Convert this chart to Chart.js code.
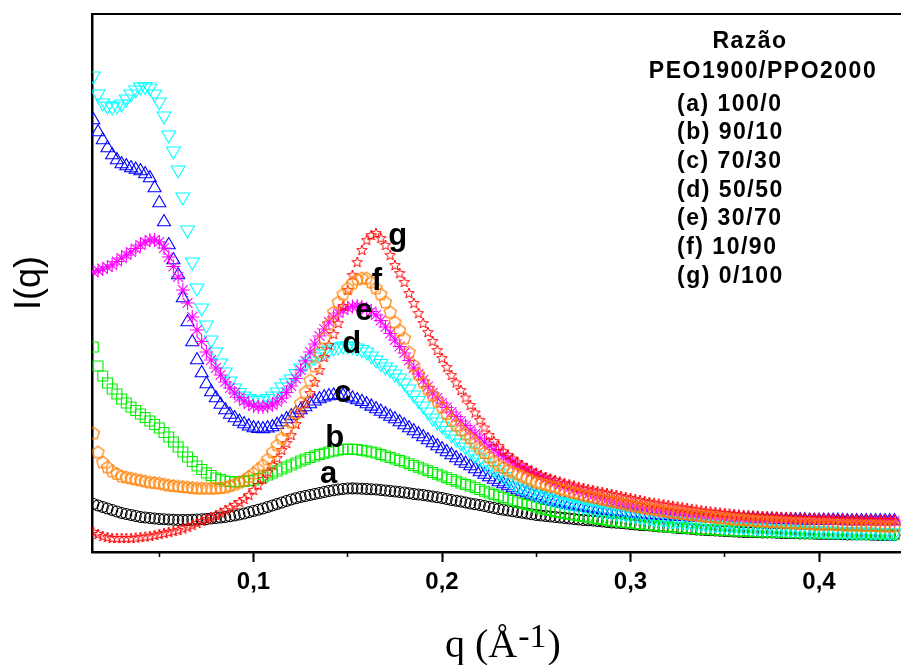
<!DOCTYPE html>
<html>
<head>
<meta charset="utf-8">
<script src="https://cdn.jsdelivr.net/npm/chart.js"></script>
<style>
  body { margin: 0; background: #fff; }
  #wrap { width: 901px; height: 665px; }
</style>
</head>
<body>
<div id="wrap"><canvas id="saxs" width="901" height="665"></canvas></div>
<script>
// q values (1/Angstrom), one row per 0.05
const qValues = [
  0.015, 0.0175, 0.02, 0.0225, 0.025, 0.0275, 0.03, 0.0325, 0.035, 0.0375, 0.04, 0.0425, 0.045, 0.0475, 0.05, 0.0525, 0.055, 0.0575, 0.06, 0.0625,
  0.065, 0.0675, 0.07, 0.0725, 0.075, 0.0775, 0.08, 0.0825, 0.085, 0.0875, 0.09, 0.0925, 0.095, 0.0975, 0.1, 0.1025, 0.105, 0.1075, 0.11, 0.1125,
  0.115, 0.1175, 0.12, 0.1225, 0.125, 0.1275, 0.13, 0.1325, 0.135, 0.1375, 0.14, 0.1425, 0.145, 0.1475, 0.15, 0.1525, 0.155, 0.1575, 0.16, 0.1625,
  0.165, 0.1675, 0.17, 0.1725, 0.175, 0.1775, 0.18, 0.1825, 0.185, 0.1875, 0.19, 0.1925, 0.195, 0.1975, 0.2, 0.2025, 0.205, 0.2075, 0.21, 0.2125,
  0.215, 0.2175, 0.22, 0.2225, 0.225, 0.2275, 0.23, 0.2325, 0.235, 0.2375, 0.24, 0.2425, 0.245, 0.2475, 0.25, 0.2525, 0.255, 0.2575, 0.26, 0.2625,
  0.265, 0.2675, 0.27, 0.2725, 0.275, 0.2775, 0.28, 0.2825, 0.285, 0.2875, 0.29, 0.2925, 0.295, 0.2975, 0.3, 0.3025, 0.305, 0.3075, 0.31, 0.3125,
  0.315, 0.3175, 0.32, 0.3225, 0.325, 0.3275, 0.33, 0.3325, 0.335, 0.3375, 0.34, 0.3425, 0.345, 0.3475, 0.35, 0.3525, 0.355, 0.3575, 0.36, 0.3625,
  0.365, 0.3675, 0.37, 0.3725, 0.375, 0.3775, 0.38, 0.3825, 0.385, 0.3875, 0.39, 0.3925, 0.395, 0.3975, 0.4, 0.4025, 0.405, 0.4075, 0.41, 0.4125,
  0.415, 0.4175, 0.42, 0.4225, 0.425, 0.4275, 0.43, 0.4325, 0.435, 0.4375, 0.44
];

// I(q), arbitrary units, one list per blend (same rows as qValues)
const iA = [ // (a) 100/0
  48, 46.5, 45, 43.5, 42, 40.5, 39, 38, 37, 36, 35, 34.5, 34, 33.5, 33, 32.8, 32.5, 32.2, 32, 32,
  32, 32.2, 32.5, 32.8, 33, 33.5, 34, 34.5, 35, 35.7, 36.5, 37.5, 38.5, 39.7, 41, 42.2, 43.5, 45, 46.5, 48,
  49.5, 51, 52.5, 53.8, 55, 56, 57, 58, 59, 60, 61, 61.8, 62.5, 63, 63.5, 63.6, 63.5, 63.3, 63, 62.8,
  62.5, 62, 61.5, 61, 60.5, 60, 59.5, 58.8, 58, 57.5, 57, 56.3, 55.5, 54.8, 54, 53, 52, 51.3, 50.5, 49.5,
  48.5, 47.8, 47, 46, 45, 44, 43, 42.2, 41.5, 40.8, 40, 39.2, 38.5, 37.8, 37, 36.5, 36, 35.5, 35, 34.5,
  34, 33.5, 33, 32.5, 32, 31.8, 31.5, 31, 30.5, 30, 29.5, 29.2, 29, 28.5, 28, 27.5, 27, 26.8, 26.5, 26,
  25.5, 25.2, 25, 24.5, 24, 23.8, 23.5, 23, 22.5, 22.2, 22, 21.8, 21.5, 21.2, 21, 20.8, 20.5, 20.2, 20, 20,
  20, 19.8, 19.5, 19.5, 19.5, 19.2, 19, 19, 19, 18.8, 18.5, 18.5, 18.5, 18.2, 18, 18, 18, 18, 18, 17.8,
  17.5, 17.5, 17.5, 17.5, 17.5, 17.2, 17, 17, 17, 17, 17
];
const iB = [ // (b) 90/10
  205, 186, 176, 169, 163, 158, 153, 149, 145, 141.5, 138, 134.5, 131, 127.5, 124, 119.5, 115, 110, 105, 100,
  95, 90.5, 86, 82.5, 79, 76.5, 74, 72.5, 71, 70.5, 70, 70.2, 70.5, 71.2, 72, 73.5, 75, 77, 79, 81,
  83, 85, 87, 89, 91, 92.8, 94.5, 96, 97.5, 98.8, 100, 101, 102, 102.6, 103, 102.8, 102.5, 101.8, 101, 100,
  99, 97.5, 96, 94.5, 93, 91.5, 90, 88.3, 86.5, 84.8, 83, 81.3, 79.5, 77.8, 76, 74.3, 72.5, 70.8, 69, 67.5,
  66, 64.3, 62.5, 60.8, 59, 57.5, 56, 54.5, 53, 51.5, 50, 48.8, 47.5, 46.3, 45, 43.8, 42.5, 41.5, 40.5, 39.5,
  38.5, 37.8, 37, 36.3, 35.5, 34.8, 34, 33.3, 32.5, 31.8, 31, 30.5, 30, 29.5, 29, 28.5, 28, 27.5, 27, 26.5,
  26, 25.5, 25, 24.8, 24.5, 24.2, 24, 23.5, 23, 22.8, 22.5, 22.2, 22, 21.8, 21.5, 21.2, 21, 21, 21, 20.8,
  20.5, 20.2, 20, 20, 20, 19.8, 19.5, 19.5, 19.5, 19.2, 19, 19, 19, 19, 19, 18.8, 18.5, 18.5, 18.5, 18.5,
  18.5, 18.2, 18, 18, 18, 18, 18, 18, 18, 17.8, 17.5
];
const iC = [ // (c) 70/30
  432, 420, 412, 404, 397, 392, 388, 386, 384, 382.5, 381, 378, 374, 364, 349, 330, 307, 292, 277, 254,
  230, 210, 192, 179, 168, 160, 154, 147.5, 142, 137.5, 134, 130.5, 128, 125.8, 124, 123.3, 123, 123.8, 125, 127.3,
  130, 133, 136, 139, 142, 145, 148, 150.8, 153, 154.8, 156, 156.7, 157, 156.3, 155, 153.7, 152, 150.2, 148, 145.6,
  143, 140.5, 138, 135.5, 133, 130, 127, 124, 121, 118, 115, 112, 109, 106, 103, 100, 97, 94, 91, 88.5,
  86, 83, 80, 77.5, 75, 72.5, 70, 68, 66, 64, 62, 60.5, 59, 57.5, 56, 54.5, 53, 51.7, 50.5, 49.5,
  48.5, 47.5, 46.5, 45.8, 45, 44.2, 43.5, 42.8, 42, 41.5, 41, 40.5, 40, 39.5, 39, 38.5, 38, 37.5, 37, 36.8,
  36.5, 36.2, 36, 35.8, 35.5, 35.2, 35, 34.8, 34.5, 34.2, 34, 34, 34, 33.8, 33.5, 33.5, 33.5, 33.2, 33, 33,
  33, 32.8, 32.5, 32.5, 32.5, 32.2, 32, 32, 32, 32, 32, 31.8, 31.5, 31.5, 31.5, 31.5, 31.5, 31.5, 31.5, 31.2,
  31, 31, 31, 31, 31, 31, 31, 31, 31, 31, 31
];
const iD = [ // (d) 50/50
  476, 458, 449, 446, 445, 446, 448, 453, 458, 462, 465, 465.5, 464, 458, 450, 436, 417, 401, 382, 355,
  322, 290, 264, 244, 227, 212, 200, 189, 180, 171, 164, 159.5, 156, 153.5, 152, 151.5, 152, 153.5, 156, 160,
  165, 169, 173, 178.5, 184, 188, 191, 195, 198, 200.5, 202, 204, 205, 206, 206, 205.5, 204, 202.5, 200, 196,
  192, 188.5, 185, 182, 178, 174, 169, 163, 157, 151.5, 146, 140, 134, 130, 126, 121.5, 117, 113, 109, 105,
  101, 97, 93, 89.5, 86, 82.5, 79, 75.5, 72, 69, 66, 64, 62, 60, 58, 56.5, 55, 53.5, 52, 50.7,
  49.5, 48.5, 47.5, 46.5, 45.5, 44.5, 43.5, 42.5, 41.5, 40.7, 40, 39.2, 38.5, 37.8, 37, 36.3, 35.5, 34.8, 34, 33.5,
  33, 32.5, 32, 31.5, 31, 30.5, 30, 29.5, 29, 28.5, 28, 27.5, 27, 26.5, 26, 25.8, 25.5, 25.2, 25, 24.8,
  24.5, 24.2, 24, 23.8, 23.5, 23.2, 23, 22.8, 22.5, 22.2, 22, 21.8, 21.5, 21.2, 21, 21, 21, 20.8, 20.5, 20.5,
  20.5, 20.2, 20, 20, 20, 19.8, 19.5, 19.5, 19.5, 19.2, 19
];
const iE = [ // (e) 30/70
  280, 281.5, 283, 285, 287, 290.5, 294, 297, 300, 303.5, 307, 310, 312, 312, 310, 304, 295, 285.5, 275, 262,
  249, 235, 222, 210.5, 200, 192, 184, 177, 170, 164, 159, 154.5, 151, 148, 146, 145.2, 145, 145.8, 147, 150,
  154, 159.5, 166, 173.5, 182, 191, 200, 208, 216, 223, 230, 235, 239, 242, 244, 245.5, 246, 245, 243, 240.5,
  237, 231.5, 225, 218.5, 212, 205.5, 199, 191.5, 184, 178, 172, 165.5, 159, 154, 149, 144.5, 140, 135.5, 131, 126.5,
  122, 118, 114, 110, 106, 102.5, 99, 96, 93, 90, 87, 84.5, 82, 79.5, 77, 75, 73, 71, 69, 67.2,
  65.5, 63.8, 62, 60.5, 59, 57.5, 56, 54.8, 53.5, 52.2, 51, 50, 49, 48, 47, 46, 45, 44.2, 43.5, 42.8,
  42, 41.2, 40.5, 40, 39.5, 39, 38.5, 38, 37.5, 37, 36.5, 36.2, 36, 35.5, 35, 34.8, 34.5, 34.2, 34, 33.8,
  33.5, 33.2, 33, 33, 33, 32.8, 32.5, 32.5, 32.5, 32.2, 32, 32, 32, 32, 32, 31.8, 31.5, 31.5, 31.5, 31.5,
  31.5, 31.2, 31, 31, 31, 31, 31, 31, 31, 31, 31
];
const iF = [ // (f) 10/90
  119, 100, 90, 85, 81, 78.5, 76, 75, 74, 73, 72, 71, 70, 69.5, 69, 68, 67, 66.5, 66, 65.5,
  65, 64.5, 64, 64, 64, 64, 64, 64.5, 65, 66.5, 68, 70, 72, 75.5, 79, 83, 87, 93, 100, 107,
  114, 122, 130, 139, 149, 160, 172, 186, 200, 214, 228, 240, 250, 258, 264, 269, 273, 274, 274, 270,
  264, 258, 250, 240, 230, 222, 214, 200, 187, 178, 170, 163, 157, 151, 145, 138.5, 132, 127, 122, 118,
  114, 109, 104, 99.5, 95, 91, 87, 84.5, 82, 80, 78, 76, 74, 72, 70, 68.8, 67.5, 66.2, 65, 63.5,
  62, 60.8, 59.5, 58.2, 57, 56, 55, 54, 53, 52, 51, 50, 49, 48, 47, 46, 45, 44.2, 43.5, 42.8,
  42, 41.2, 40.5, 39.8, 39, 38.5, 38, 37.5, 37, 36.5, 36, 35.5, 35, 34.5, 34, 33.5, 33, 32.8, 32.5, 32,
  31.5, 31.2, 31, 30.8, 30.5, 30.2, 30, 29.8, 29.5, 29.2, 29, 28.8, 28.5, 28.2, 28, 28, 28, 27.8, 27.5, 27.2,
  27, 27, 27, 26.8, 26.5, 26.5, 26.5, 26.2, 26, 26, 26
];
const iG = [ // (g) 0/100
  20, 18, 16, 15, 14, 14, 14, 14, 14, 14.5, 15, 15.5, 16, 17, 18, 19, 20, 21, 22, 23.5,
  25, 27, 29, 31, 33, 35, 37, 39.5, 42, 44.5, 47, 50, 53, 57, 62, 67, 73, 80, 87, 94,
  102, 109, 117, 128, 139, 149, 159, 170, 182, 195, 207, 218, 229, 246, 262, 277, 290, 302, 312, 317,
  319, 314, 307, 297, 287, 279, 270, 259, 249, 239, 229, 220, 211, 202, 194, 185, 177, 169.5, 162, 154.5,
  147, 139.5, 132, 124.5, 117, 111, 106, 101, 97, 93.5, 90, 87, 84, 81.5, 79, 77, 75, 73.5, 72, 70.5,
  69, 67.8, 66.5, 65.2, 64, 63, 62, 61, 60, 59, 58, 57, 56, 55, 54, 53, 52, 51, 50, 49.2,
  48.5, 47.8, 47, 46.2, 45.5, 44.8, 44, 43.2, 42.5, 41.8, 41, 40.5, 40, 39.5, 39, 38.5, 38, 37.5, 37, 36.8,
  36.5, 36.2, 36, 35.8, 35.5, 35.2, 35, 34.8, 34.5, 34.2, 34, 34, 34, 33.8, 33.5, 33.5, 33.5, 33.2, 33, 33,
  33, 32.8, 32.5, 32.5, 32.5, 32.2, 32, 32, 32, 32, 32
];

// curve letters and where they sit (q, I)
const curveLetters = ['a', 'b', 'c', 'd', 'e', 'f', 'g'];
const letterQ = [0.1399, 0.1431, 0.1474, 0.1521, 0.1585, 0.1654, 0.1765];
const letterI = [69, 105, 150, 199, 232, 262, 307];

const legendTitle = ['Razão', 'PEO1900/PPO2000'];
const legendItems = ['(a) 100/0', '(b) 90/10', '(c) 70/30', '(d) 50/50', '(e) 30/70', '(f) 10/90', '(g) 0/100'];

// little marker images for shapes chart.js does not have
function makePentagon(color) {
  const c = document.createElement('canvas');
  c.width = 15; c.height = 15;
  const g = c.getContext('2d');
  g.strokeStyle = color;
  g.lineWidth = 1.2;
  g.beginPath();
  for (let i = 0; i < 5; i++) {
    const a = -Math.PI / 2 + i * 2 * Math.PI / 5;
    const x = 7.5 + 6.3 * Math.cos(a), y = 8 + 6.3 * Math.sin(a);
    if (i === 0) g.moveTo(x, y); else g.lineTo(x, y);
  }
  g.closePath();
  g.stroke();
  return c;
}
function makeStar(color) {
  const c = document.createElement('canvas');
  c.width = 12; c.height = 12;
  const g = c.getContext('2d');
  g.strokeStyle = color;
  g.lineWidth = 1;
  g.beginPath();
  for (let i = 0; i < 10; i++) {
    const a = -Math.PI / 2 + i * Math.PI / 5;
    const r = i % 2 === 0 ? 5.5 : 2.3;
    const x = 6 + r * Math.cos(a), y = 6.5 + r * Math.sin(a);
    if (i === 0) g.moveTo(x, y); else g.lineTo(x, y);
  }
  g.closePath();
  g.stroke();
  return c;
}

function pts(values) {
  return values.map((v, i) => ({ x: qValues[i], y: v }));
}

// order: lower number is drawn later (on top)
function series(values, color, style, radius, order, rotation) {
  return {
    data: pts(values),
    borderColor: color,
    backgroundColor: 'rgba(0,0,0,0)',
    pointStyle: style,
    pointRadius: radius,
    pointBorderWidth: 1.1,
    pointRotation: rotation || 0,
    order: order,
    clip: 0
  };
}

const datasets = [
  series(iA, '#000000', 'circle', 5.5, 6),
  series(iB, '#00ee00', 'rect', 7, 5),
  series(iC, '#0000ff', 'triangle', 7.5, 4),
  series(iD, '#00ffff', 'triangle', 8, 3, 180),
  series(iE, '#ff00ff', 'star', 7, 2),
  series(iF, '#ff8000', makePentagon('#ff8000'), 7, 0),
  series(iG, '#ff0000', makeStar('#ff0000'), 6, 1)
];

const textPlugin = {
  id: 'curveText',
  afterDatasetsDraw(chart) {
    const ctx = chart.ctx;
    const xs = chart.scales.x, ys = chart.scales.y;
    ctx.save();
    ctx.fillStyle = '#000';
    ctx.textBaseline = 'alphabetic';
    ctx.textAlign = 'center';
    ctx.font = 'bold 31px "Liberation Sans", Arial, sans-serif';
    curveLetters.forEach((t, i) => {
      ctx.fillText(t, xs.getPixelForValue(letterQ[i]), ys.getPixelForValue(letterI[i]));
    });

    // legend block at the upper right
    ctx.font = 'bold 23px "Liberation Sans", Arial, sans-serif';
    ctx.letterSpacing = '1.5px';
    ctx.fillText(legendTitle[0], 750, 48);
    ctx.fillText(legendTitle[1], 763, 77.5);
    ctx.textAlign = 'left';
    legendItems.forEach((t, i) => {
      ctx.fillText(t, 677, 110.5 + i * 28.7);
    });
    ctx.letterSpacing = '0px';

    // x axis title with a real superscript
    ctx.font = '40px "Liberation Serif", "Times New Roman", serif';
    let x = 445;
    ctx.fillText('q (Å', x, 657);
    x += ctx.measureText('q (Å').width;
    ctx.font = '34px "Liberation Serif", "Times New Roman", serif';
    ctx.fillText('-1', x + 1, 647);
    x += ctx.measureText('-1').width + 2;
    ctx.font = '40px "Liberation Serif", "Times New Roman", serif';
    ctx.fillText(')', x, 657);
    ctx.restore();
  }
};

const noPad = s => { s.paddingLeft = 0; s.paddingRight = 0; };

new Chart(document.getElementById('saxs'), {
  type: 'scatter',
  data: { datasets: datasets },
  plugins: [textPlugin],
  options: {
    responsive: false,
    animation: false,
    events: [],
    layout: { autoPadding: false, padding: { top: 14, left: 0, right: 0, bottom: 0 } },
    plugins: { legend: { display: false }, tooltip: { enabled: false } },
    scales: {
      x: {
        type: 'linear',
        position: 'bottom',
        weight: 1,
        min: 0.0143,
        max: 0.4435,
        ticks: {
          stepSize: 0.1,
          includeBounds: false,
          autoSkip: false,
          maxRotation: 0,
          padding: 6,
          color: '#000',
          font: { family: '"Liberation Sans", Arial, sans-serif', weight: 'bold', size: 24 },
          callback: v => v.toFixed(1).replace('.', ',')
        },
        grid: { drawOnChartArea: false, drawTicks: true, tickLength: 10, tickWidth: 2, tickColor: '#000' },
        border: { display: true, color: '#000', width: 2.5 },
        afterFit: s => { s.height = 113; noPad(s); }
      },
      xMinor: {
        type: 'linear',
        position: 'bottom',
        weight: 0,
        min: 0.0143,
        max: 0.4435,
        ticks: { display: false, stepSize: 0.05, includeBounds: false, autoSkip: false },
        grid: { drawOnChartArea: false, drawTicks: true, tickLength: 5, tickWidth: 1.5, tickColor: '#000' },
        border: { display: false },
        afterFit: s => { s.height = 0; noPad(s); }
      },
      xTop: {
        type: 'linear',
        position: 'top',
        min: 0.0143,
        max: 0.4435,
        ticks: { display: false },
        grid: { drawOnChartArea: false, drawTicks: false },
        border: { display: true, color: '#000', width: 2 },
        afterFit: s => { s.height = 0; noPad(s); }
      },
      y: {
        min: 0,
        max: 538,
        ticks: { display: false },
        grid: { drawOnChartArea: false, drawTicks: false },
        border: { display: true, color: '#000', width: 2.5 },
        title: {
          display: true,
          text: 'I(q)',
          color: '#000',
          font: { family: '"Liberation Sans", Arial, sans-serif', size: 36 },
          padding: { top: 8 }
        },
        afterFit: s => { s.width = 92; s.paddingTop = 0; s.paddingBottom = 0; }
      }
    }
  }
});
</script>
</body>
</html>
